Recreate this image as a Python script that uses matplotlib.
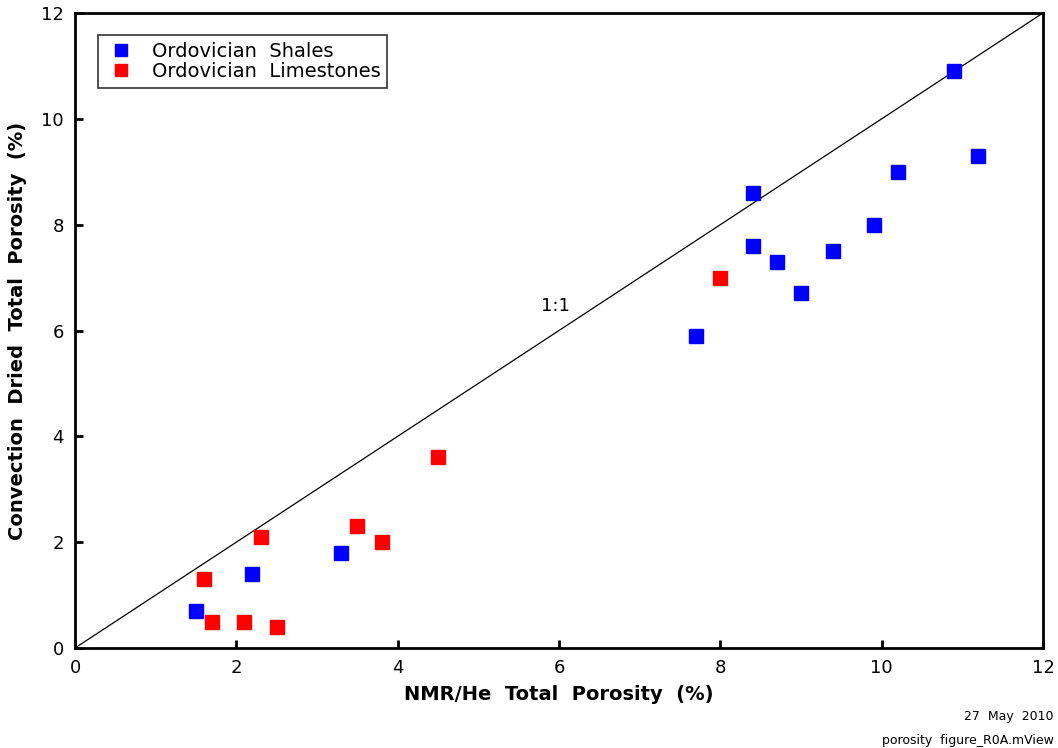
import matplotlib.pyplot as plt
import numpy as np

# data
shale_x = [1.5, 2.2, 3.3, 7.7, 8.4, 8.4, 8.7, 9.0, 9.4, 9.9, 10.2, 10.9, 11.2]
shale_y = [0.7, 1.4, 1.8, 5.9, 8.6, 7.6, 7.3, 6.7, 7.5, 8.0, 9.0, 10.9, 9.3]
lime_x = [1.6, 1.7, 2.1, 2.3, 2.5, 3.5, 3.8, 4.5, 8.0]
lime_y = [1.3, 0.5, 0.5, 2.1, 0.4, 2.3, 2.0, 3.6, 7.0]
ticks = [0, 2, 4, 6, 8, 10, 12]

fig = plt.figure(figsize=(10.58, 7.48), dpi=100)
ax = fig.add_axes([0.0709, 0.1337, 0.9149, 0.8489])

ax.plot([0, 12], [0, 12], '-', color="black", lw=0.9, zorder=1)
ax.plot(shale_x, shale_y, 's', color="blue", ms=10, mec="blue",
        label="Ordovician  Shales", zorder=3)
ax.plot(lime_x, lime_y, 's', color="red", ms=10, mec="red",
        label="Ordovician  Limestones", zorder=3)
ax.text(5.95, 6.3, "1:1", fontsize=13, ha="center", va="bottom")

ax.set_xlim(0, 12)
ax.set_ylim(0, 12)
ax.set_xticks(ticks)
ax.set_yticks(ticks)
ax.tick_params(direction="in", length=6, width=2, labelsize=13,
               pad=8, top=False, right=False)
for s in ax.spines.values():
    s.set_linewidth(2)

lab = dict(fontsize=14, fontweight="bold")
ax.set_xlabel("NMR/He  Total  Porosity  (%)", labelpad=6, **lab)
ax.set_ylabel("Convection  Dried  Total  Porosity  (%)", labelpad=10, **lab)

leg = ax.legend(loc="upper left", bbox_to_anchor=(0.024, 0.965),
                borderaxespad=0, fontsize=14, frameon=True, fancybox=False,
                edgecolor="black", handletextpad=0.8, borderpad=0.35,
                labelspacing=0.05, handlelength=1.6, markerscale=0.85)
leg.get_frame().set_linewidth(1.2)

fig.text(0.996, 0.037, "27  May  2010", ha="right", va="baseline", fontsize=9)
fig.text(0.996, 0.005, "porosity  figure_R0A.mView", ha="right",
         va="baseline", fontsize=9)

plt.savefig("out.png", dpi=100)
